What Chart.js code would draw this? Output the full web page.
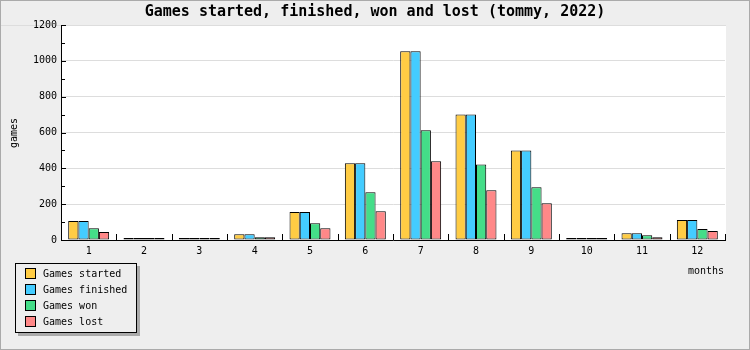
<!DOCTYPE html>
<html lang="en">
<head>
    <meta charset="UTF-8">
    <title>Games started, finished, won and lost</title>
    <style>
        body { margin: 0; background: #eee; }
        canvas { display: block; }
    </style>
</head>
<body>
    <canvas id="chart" width="750" height="350"></canvas>

    <script src="https://cdn.jsdelivr.net/npm/chart.js"></script>
    <script>
        // data
        const months = ['1', '2', '3', '4', '5', '6', '7', '8', '9', '10', '11', '12'];
        const gamesStarted  = [106, 11, 4, 32, 156, 428, 1053, 701, 500, 10, 37, 112];
        const gamesFinished = [106, 11, 4, 32, 156, 428, 1053, 701, 500, 10, 37, 112];
        const gamesWon      = [65, 5, 3, 15, 93, 266, 612, 422, 294, 10, 26, 61];
        const gamesLost     = [45, 4, 3, 16, 65, 160, 439, 277, 205, 4, 15, 50];

        const chartTitle = 'Games started, finished, won and lost (tommy, 2022)';
        const FONT = '"DejaVu Sans Mono", "Liberation Mono", monospace';

        const seriesNames  = ['Games started', 'Games finished', 'Games won', 'Games lost'];
        const seriesColors = ['#ffcc44', '#44ccff', '#44dd88', '#ff8888'];
        const seriesData   = [gamesStarted, gamesFinished, gamesWon, gamesLost];

        // background, frame, title, inward ticks, legend, axis titles
        const decorations = {
            id: 'decorations',
            beforeDraw(chart) {
                const ctx = chart.ctx;
                const a = chart.chartArea;
                ctx.save();
                ctx.fillStyle = '#eeeeee';
                ctx.fillRect(0, 0, chart.width, chart.height);
                ctx.fillStyle = '#ffffff';
                ctx.fillRect(a.left, a.top, a.right - a.left + 1, a.bottom - a.top);
                ctx.strokeStyle = '#dddddd';
                ctx.lineWidth = 1;
                ctx.beginPath();
                ctx.moveTo(1, a.top + 0.5);
                ctx.lineTo(a.right + 1, a.top + 0.5);
                ctx.stroke();
                ctx.strokeStyle = '#aaaaaa';
                ctx.strokeRect(0.5, 0.5, chart.width - 1, chart.height - 1);
                ctx.fillStyle = '#000';
                ctx.font = 'bold 15px ' + FONT;
                ctx.textAlign = 'center';
                ctx.textBaseline = 'middle';
                ctx.fillText(chartTitle, chart.width / 2, 12);
                ctx.restore();
            },
            afterDraw(chart) {
                const ctx = chart.ctx;
                const a = chart.chartArea;
                const x = chart.scales.x;
                const y = chart.scales.y;
                ctx.save();
                ctx.strokeStyle = '#000';
                ctx.lineWidth = 1;
                ctx.beginPath();
                // y ticks, major every 200, minor every 100, pointing inward
                for (let v = 0; v <= 1200; v += 100) {
                    const py = Math.round(y.getPixelForValue(v)) + 0.5;
                    const len = v % 200 === 0 ? 5 : 4;
                    ctx.moveTo(a.left, py);
                    ctx.lineTo(a.left + len, py);
                }
                // x ticks on category boundaries, pointing up
                for (let i = 1; i <= months.length; i++) {
                    const px = Math.round(x.getPixelForValue(i - 0.5)) + 0.5;
                    ctx.moveTo(px, a.bottom);
                    ctx.lineTo(px, a.bottom - 6);
                }
                ctx.stroke();

                // axis titles
                ctx.fillStyle = '#000';
                ctx.font = '10px ' + FONT;
                ctx.textAlign = 'center';
                ctx.textBaseline = 'middle';
                ctx.fillText('months', 706, 271);
                ctx.save();
                ctx.translate(14, 133);
                ctx.rotate(-Math.PI / 2);
                ctx.fillText('games', 0, 0);
                ctx.restore();

                // legend box with shadow
                const lx = 15, ly = 263, lw = 122, lh = 70;
                ctx.fillStyle = '#aaaaaa';
                ctx.fillRect(lx + 3, ly + 3, lw, lh);
                ctx.fillStyle = '#eeeeee';
                ctx.fillRect(lx, ly, lw, lh);
                ctx.strokeStyle = '#000';
                ctx.strokeRect(lx + 0.5, ly + 0.5, lw - 1, lh - 1);
                ctx.textAlign = 'left';
                chart.data.datasets.forEach((ds, i) => {
                    const ry = ly + 5 + i * 16;
                    ctx.fillStyle = ds.backgroundColor;
                    ctx.fillRect(lx + 10, ry, 10, 10);
                    ctx.strokeRect(lx + 10.5, ry + 0.5, 10, 10);
                    ctx.fillStyle = '#000';
                    ctx.fillText(ds.label, lx + 28, ry + 6);
                });
                ctx.restore();
            }
        };

        new Chart(document.getElementById('chart'), {
            type: 'bar',
            data: {
                labels: months,
                datasets: seriesNames.map((name, i) => ({
                    label: name,
                    data: seriesData[i],
                    backgroundColor: seriesColors[i],
                    borderColor: '#000',
                    borderWidth: 1,
                    borderSkipped: false,
                    minBarLength: 2,
                    categoryPercentage: 0.74,
                    barPercentage: 1.0
                }))
            },
            options: {
                responsive: false,
                animation: false,
                devicePixelRatio: 1,
                layout: { padding: { top: 25, right: 25, left: 0, bottom: 0 } },
                plugins: {
                    legend: { display: false },
                    title: { display: false },
                    tooltip: { enabled: false }
                },
                scales: {
                    x: {
                        grid: { display: false, drawTicks: false },
                        border: { color: '#000', width: 1 },
                        ticks: { color: '#000', font: { family: FONT, size: 10 }, padding: 5, maxRotation: 0 },
                        afterFit: (scale) => { scale.height = 110; }
                    },
                    y: {
                        min: 0,
                        max: 1200,
                        grid: { color: '#dddddd', drawTicks: false },
                        border: { color: '#000', width: 1 },
                        ticks: {
                            stepSize: 200,
                            color: '#000',
                            font: { family: FONT, size: 10 },
                            padding: 4,
                            callback: (v) => String(v)
                        },
                        afterFit: (scale) => { scale.width = 61; }
                    }
                }
            },
            plugins: [decorations]
        });
    </script>
</body>
</html>
